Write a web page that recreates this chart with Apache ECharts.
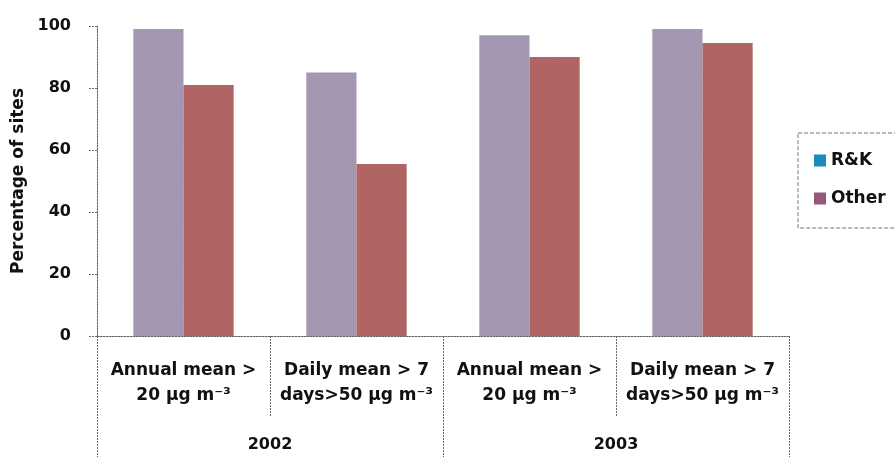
<!DOCTYPE html>
<html><head><meta charset="utf-8">
<script src="https://cdn.jsdelivr.net/npm/echarts@6/dist/echarts.min.js"></script>
<style>html,body{margin:0;padding:0;background:#fff}#c{width:895px;height:457px}</style>
</head><body><div id="c"></div>
<script>
const categories = ['Annual mean >\n20 μg m⁻³', 'Daily mean > 7\ndays>50 μg m⁻³', 'Annual mean >\n20 μg m⁻³', 'Daily mean > 7\ndays>50 μg m⁻³'];
const years = ['2002', '2003'];
const rk = [99, 85, 97, 99];
const other = [81, 55.5, 90, 94.5];
const yTicks = [0, 20, 40, 60, 80, 100];

const font = 'DejaVu Sans';
const chart = echarts.init(document.getElementById('c'));
const dash = {color: '#6e6560', width: 1, type: [2, 1]};
chart.setOption({
  animation: false,
  aria: {enabled: true, decal: {show: true}},
  textStyle: {fontFamily: font},
  grid: {left: 97, right: 106, top: 26, bottom: 121},
  legend: {
    orient: 'vertical', left: 798, top: 133,
    padding: [19, 30, 21, 16], itemGap: 21,
    borderColor: '#777', borderWidth: 1, borderType: 'dashed',
    itemWidth: 12, itemHeight: 12, icon: 'rect',
    textStyle: {fontFamily: font, fontSize: 17, fontWeight: 'bold', color: '#111'},
    data: [{name: 'R&K', itemStyle: {color: '#1b8dbd', decal: 'none'}}, {name: 'Other', itemStyle: {color: '#96587a', decal: 'none'}}]
  },
  xAxis: [{
    type: 'category', data: categories, position: 'bottom',
    axisLine: {show: true, lineStyle: dash},
    axisTick: {show: true, length: 80, lineStyle: dash, interval: 0},
    axisLabel: {interval: 0, margin: 22, fontSize: 17, fontWeight: 'bold', color: '#111', lineHeight: 25}
  }, {
    type: 'category', data: years, position: 'bottom',
    axisLine: {show: false},
    axisTick: {show: true, length: 125, lineStyle: dash, interval: 0},
    axisLabel: {margin: 101, fontSize: 16, fontWeight: 'bold', color: '#111'}
  }],
  yAxis: {
    type: 'value', min: 0, max: 100, interval: 20,
    name: 'Percentage of sites', nameLocation: 'middle', nameGap: 70, nameRotate: 90,
    nameTextStyle: {fontSize: 17, fontWeight: 'bold', color: '#111'},
    axisLine: {show: true, lineStyle: dash},
    axisTick: {show: true, length: 9, lineStyle: dash},
    axisLabel: {fontSize: 16, fontWeight: 'bold', color: '#111', margin: 26,
      formatter: v => yTicks.includes(v) ? String(v) : ''},
    splitLine: {show: false}
  },
  series: [{
    name: 'R&K', type: 'bar', data: rk, barGap: '0%', barCategoryGap: '42%',
    itemStyle: {color: '#a497b2', decal: {symbol: 'circle', symbolSize: 0.6, dashArrayX: [[3, 7]], dashArrayY: [3, 7], color: 'rgba(205,110,120,0.45)', rotation: 0}}
  }, {
    name: 'Other', type: 'bar', data: other,
    itemStyle: {color: '#b06464', decal: {symbol: 'circle', symbolSize: 0.6, dashArrayX: [[3, 7]], dashArrayY: [3, 7], color: 'rgba(160,100,150,0.35)', rotation: 0}}
  }]
});
</script></body></html>
